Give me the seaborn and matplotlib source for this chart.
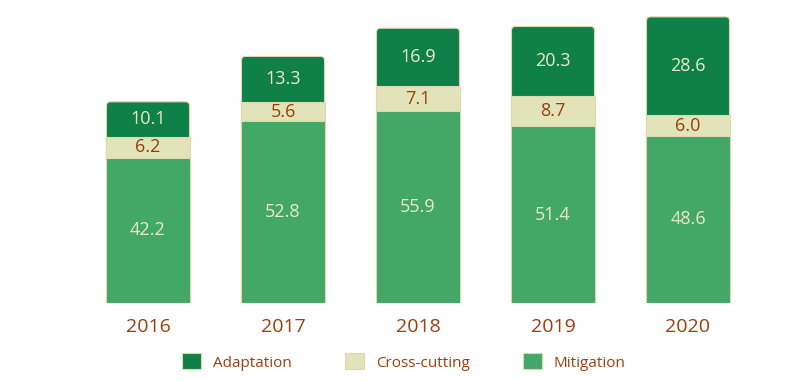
import matplotlib
matplotlib.use("Agg")
import matplotlib.pyplot as plt
import seaborn as sns
import pandas as pd
import numpy as np
from matplotlib.patches import FancyBboxPatch, Patch

years = ["2016", "2017", "2018", "2019", "2020"]
mitigation = [42.2, 52.8, 55.9, 51.4, 48.6]
cross_cutting = [6.2, 5.6, 7.1, 8.7, 6.0]
adaptation = [10.1, 13.3, 16.9, 20.3, 28.6]

C_ADAPT = "#0e8048"
C_CROSS = "#e3e3b9"
C_MIT = "#42a767"
C_EDGE = "#ddd9ad"
C_TEXT = "#9c3d0c"
C_LIGHT = "#ecebc6"

sns.set_theme(style="white")
plt.rcParams["font.family"] = ["Open Sans", "DejaVu Sans"]

df = pd.DataFrame({"year": years, "mit": mitigation, "cross": cross_cutting, "adapt": adaptation})
df["mc"] = df["mit"] + df["cross"]
df["total"] = df["mc"] + df["adapt"]

fig = plt.figure(figsize=(8.11, 3.81), dpi=100)
ax = fig.add_axes([80.5 / 811, 78 / 381, 675 / 811, 293 / 381])

W = 0.615
sns.barplot(data=df, x="year", y="total", color=C_ADAPT, width=W, saturation=1,
            edgecolor=C_EDGE, linewidth=0.8, ax=ax, zorder=1)
adapt_patches = list(ax.patches)
sns.barplot(data=df, x="year", y="mc", color=C_CROSS, width=W, saturation=1,
            edgecolor=C_EDGE, linewidth=0.8, ax=ax, zorder=2)
sns.barplot(data=df, x="year", y="mit", color=C_MIT, width=W, saturation=1,
            edgecolor=C_EDGE, linewidth=0.8, ax=ax, zorder=3)

ax.set_xlim(-0.5, 4.5)
ax.set_ylim(0, 85.2)

# rounded top corners on the total bars
px_per_x = 675 / 5.0
px_per_y = 293 / 85.2
aspect = px_per_x / px_per_y
r = 4 / px_per_x
for p in adapt_patches:
    x0, y0 = p.get_x(), p.get_y()
    w, h = p.get_width(), p.get_height()
    p.remove()
    fb = FancyBboxPatch((x0, y0), w, h, boxstyle=f"round,pad=0,rounding_size={r}",
                        mutation_aspect=aspect, facecolor=C_ADAPT, edgecolor=C_EDGE,
                        linewidth=0.8, zorder=1)
    ax.add_patch(fb)

for i in range(len(years)):
    ax.text(i, mitigation[i] / 2, f"{mitigation[i]:.1f}", ha="center", va="center",
            color=C_LIGHT, fontsize=13, zorder=5)
    ax.text(i, mitigation[i] + cross_cutting[i] / 2, f"{cross_cutting[i]:.1f}", ha="center",
            va="center", color=C_TEXT, fontsize=13, zorder=5)
    ax.text(i, mitigation[i] + cross_cutting[i] + adaptation[i] / 2, f"{adaptation[i]:.1f}",
            ha="center", va="center", color=C_LIGHT, fontsize=13, zorder=5)

ax.set_xlabel("")
ax.set_ylabel("")
ax.set_yticks([])
ax.tick_params(axis="x", length=0, pad=11, labelsize=14, labelcolor=C_TEXT)
for s in ax.spines.values():
    s.set_visible(False)

handles = [Patch(facecolor=C_ADAPT, edgecolor=C_EDGE, linewidth=0.8),
           Patch(facecolor=C_CROSS, edgecolor=C_EDGE, linewidth=0.8),
           Patch(facecolor=C_MIT, edgecolor=C_EDGE, linewidth=0.8)]
leg = fig.legend(handles, ["Adaptation", "Cross-cutting", "Mitigation"], ncol=3,
                 loc="center", bbox_to_anchor=(404 / 811, 1 - 362 / 381), frameon=False,
                 fontsize=11, handlelength=1.24, handleheight=1.24, handletextpad=0.8,
                 columnspacing=3.45)
for t in leg.get_texts():
    t.set_color(C_TEXT)

fig.savefig("out.png", dpi=100)
